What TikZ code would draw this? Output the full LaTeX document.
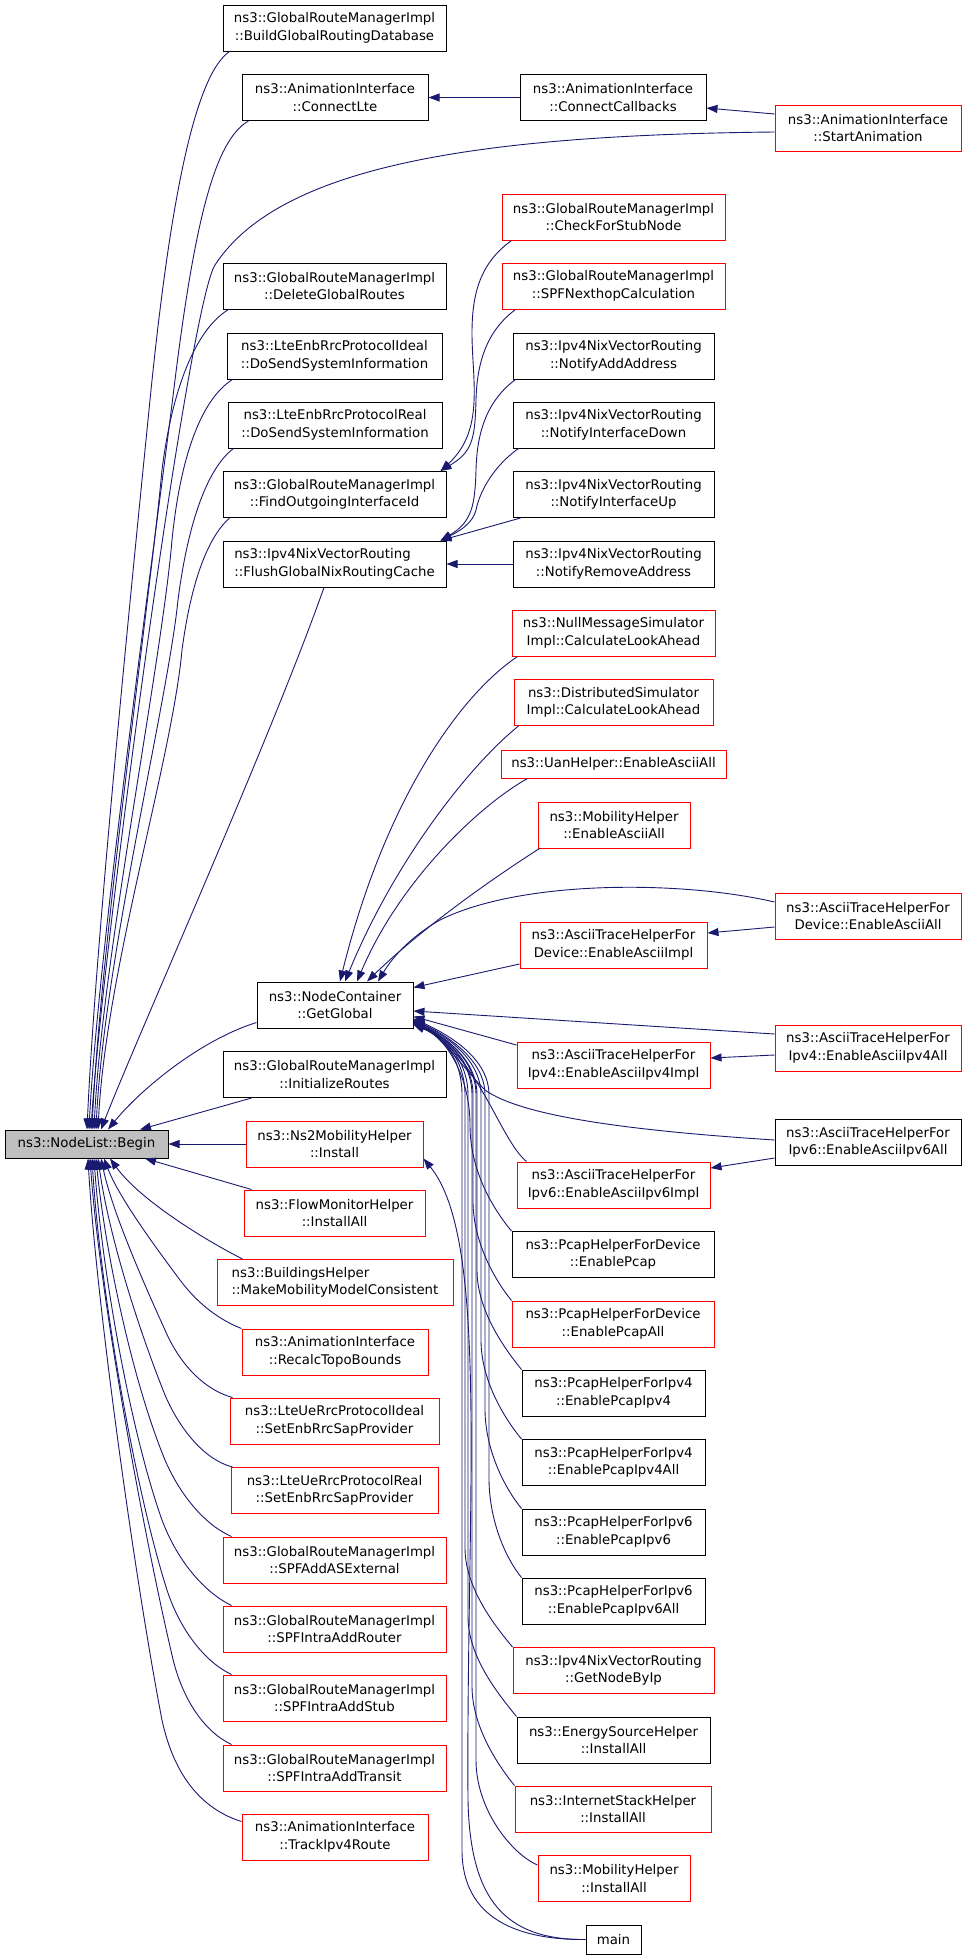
\documentclass[tikz,border=0pt]{standalone}
\usepackage{fontspec}
\setmainfont{DejaVu Sans}
\usetikzlibrary{arrows.meta}
\definecolor{navy}{HTML}{191970}
\definecolor{beginfill}{HTML}{BFBFBF}
\tikzset{
  box/.style={draw=black, fill=white, line width=1pt, inner sep=0pt, align=center,
    font=\fontsize{13.3}{17.5}\selectfont, minimum height=46pt},
  redbox/.style={box, draw=red},
  calls/.style={draw=navy, line width=0.9pt, -{Triangle[length=11pt,width=8pt]}}
}
\begin{document}
\begin{tikzpicture}[x=1pt,y=-1pt]
\useasboundingbox (0,0) rectangle (963,1960);
% column A
\node[box, fill=beginfill, minimum width=163pt, minimum height=28pt] (nlbegin) at (86.5,1144) {ns3::NodeList::Begin};
% column B
\node[box, minimum width=223pt] (build) at (334.5,28) {ns3::GlobalRouteManagerImpl\\::BuildGlobalRoutingDatabase};
\node[box, minimum width=186pt] (connectlte) at (335,97.5) {ns3::AnimationInterface\\::ConnectLte};
\node[box, minimum width=223pt] (delete) at (334.5,286) {ns3::GlobalRouteManagerImpl\\::DeleteGlobalRoutes};
\node[box, minimum width=215pt] (enbideal) at (334.5,356) {ns3::LteEnbRrcProtocolIdeal\\::DoSendSystemInformation};
\node[box, minimum width=214pt] (enbreal) at (335,425) {ns3::LteEnbRrcProtocolReal\\::DoSendSystemInformation};
\node[box, minimum width=223pt] (findout) at (334.5,494.5) {ns3::GlobalRouteManagerImpl\\::FindOutgoingInterfaceId};
\node[box, minimum width=223pt, align=left] (flush) at (334.5,564) {ns3::Ipv4NixVectorRouting\\::FlushGlobalNixRoutingCache};
\node[box, minimum width=156pt] (gg) at (335,1005) {ns3::NodeContainer\\::GetGlobal};
\node[box, minimum width=223pt] (initroutes) at (334.5,1074.5) {ns3::GlobalRouteManagerImpl\\::InitializeRoutes};
\node[redbox, minimum width=177pt] (ns2) at (334.5,1144) {ns3::Ns2MobilityHelper\\::Install};
\node[redbox, minimum width=181pt] (flowmon) at (334.5,1213) {ns3::FlowMonitorHelper\\::InstallAll};
\node[redbox, minimum width=236pt, align=left] (buildings) at (335,1282.5) {ns3::BuildingsHelper\\::MakeMobilityModelConsistent};
\node[redbox, minimum width=186pt] (recalc) at (335,1352) {ns3::AnimationInterface\\::RecalcTopoBounds};
\node[redbox, minimum width=209pt] (ueideal) at (334.5,1421) {ns3::LteUeRrcProtocolIdeal\\::SetEnbRrcSapProvider};
\node[redbox, minimum width=207pt] (uereal) at (334.5,1490.5) {ns3::LteUeRrcProtocolReal\\::SetEnbRrcSapProvider};
\node[redbox, minimum width=223pt] (spfext) at (334.5,1560) {ns3::GlobalRouteManagerImpl\\::SPFAddASExternal};
\node[redbox, minimum width=223pt] (spfrouter) at (334.5,1629) {ns3::GlobalRouteManagerImpl\\::SPFIntraAddRouter};
\node[redbox, minimum width=223pt] (spfstub) at (334.5,1698) {ns3::GlobalRouteManagerImpl\\::SPFIntraAddStub};
\node[redbox, minimum width=223pt] (spftransit) at (334.5,1768) {ns3::GlobalRouteManagerImpl\\::SPFIntraAddTransit};
\node[redbox, minimum width=186pt] (track) at (335,1837) {ns3::AnimationInterface\\::TrackIpv4Route};
% column C
\node[box, minimum width=186pt] (connectcb) at (613,97.5) {ns3::AnimationInterface\\::ConnectCallbacks};
\node[redbox, minimum width=223pt] (checkstub) at (613.5,217) {ns3::GlobalRouteManagerImpl\\::CheckForStubNode};
\node[redbox, minimum width=223pt] (spfnext) at (613.5,286) {ns3::GlobalRouteManagerImpl\\::SPFNexthopCalculation};
\node[box, minimum width=201pt] (notifyadd) at (613.5,356) {ns3::Ipv4NixVectorRouting\\::NotifyAddAddress};
\node[box, minimum width=201pt] (notifydown) at (613.5,425) {ns3::Ipv4NixVectorRouting\\::NotifyInterfaceDown};
\node[box, minimum width=201pt] (notifyup) at (613.5,494.5) {ns3::Ipv4NixVectorRouting\\::NotifyInterfaceUp};
\node[box, minimum width=201pt] (notifyrem) at (613.5,564) {ns3::Ipv4NixVectorRouting\\::NotifyRemoveAddress};
\node[redbox, minimum width=203pt] (nullmsg) at (613.5,633) {ns3::NullMessageSimulator\\Impl::CalculateLookAhead};
\node[redbox, minimum width=199pt] (distsim) at (613.5,702.5) {ns3::DistributedSimulator\\Impl::CalculateLookAhead};
\node[redbox, minimum width=225pt, minimum height=28pt] (uan) at (613.5,764) {ns3::UanHelper::EnableAsciiAll};
\node[redbox, minimum width=152pt] (mobascii) at (614,825) {ns3::MobilityHelper\\::EnableAsciiAll};
\node[redbox, minimum width=187pt] (devimpl) at (613.5,945) {ns3::AsciiTraceHelperFor\\Device::EnableAsciiImpl};
\node[redbox, minimum width=193pt] (ipv4impl) at (613.5,1065) {ns3::AsciiTraceHelperFor\\Ipv4::EnableAsciiIpv4Impl};
\node[redbox, minimum width=193pt] (ipv6impl) at (613.5,1185) {ns3::AsciiTraceHelperFor\\Ipv6::EnableAsciiIpv6Impl};
\node[box, minimum width=202pt] (pcap) at (613,1254.5) {ns3::PcapHelperForDevice\\::EnablePcap};
\node[redbox, minimum width=202pt] (pcapall) at (613,1324) {ns3::PcapHelperForDevice\\::EnablePcapAll};
\node[box, minimum width=183pt] (pcapfour) at (613.5,1393) {ns3::PcapHelperForIpv4\\::EnablePcapIpv4};
\node[box, minimum width=183pt] (pcapfourall) at (613.5,1462.5) {ns3::PcapHelperForIpv4\\::EnablePcapIpv4All};
\node[box, minimum width=183pt] (pcapsix) at (613.5,1532) {ns3::PcapHelperForIpv6\\::EnablePcapIpv6};
\node[box, minimum width=183pt] (pcapsixall) at (613.5,1601) {ns3::PcapHelperForIpv6\\::EnablePcapIpv6All};
\node[redbox, minimum width=201pt] (getnode) at (613.5,1670.5) {ns3::Ipv4NixVectorRouting\\::GetNodeByIp};
\node[box, minimum width=193pt] (energy) at (613.5,1740) {ns3::EnergySourceHelper\\::InstallAll};
\node[redbox, minimum width=196pt] (internet) at (613,1809) {ns3::InternetStackHelper\\::InstallAll};
\node[redbox, minimum width=152pt] (mobinst) at (614,1878.5) {ns3::MobilityHelper\\::InstallAll};
\node[box, minimum width=55pt, minimum height=29pt] (main) at (613.5,1939.5) {main};
% column D
\node[redbox, minimum width=186pt] (startanim) at (868,128) {ns3::AnimationInterface\\::StartAnimation};
\node[redbox, minimum width=186pt] (devall) at (868,916) {ns3::AsciiTraceHelperFor\\Device::EnableAsciiAll};
\node[redbox, minimum width=186pt] (ipvfourall) at (868,1048) {ns3::AsciiTraceHelperFor\\Ipv4::EnableAsciiIpv4All};
\node[box, minimum width=186pt] (ipvsixall) at (868,1142.5) {ns3::AsciiTraceHelperFor\\Ipv6::EnableAsciiIpv6All};

% ---- edges into NodeList::Begin (from above)
\draw[calls] ([xshift=7pt]build.south west) .. controls (195,75) and (170,200) .. (150,400) .. controls (130,600) and (95,950) .. ([xshift=0.5pt]nlbegin.north);
\draw[calls] ([xshift=7pt]connectlte.south west) .. controls (215,140) and (195,220) .. (175,380) .. controls (158,520) and (98,950) .. ([xshift=2.5pt]nlbegin.north);
\draw[calls] ([yshift=-4pt]startanim.west) .. controls (480,135) and (280,165) .. (215,265) .. controls (189,305) and (102,950) .. ([xshift=4.5pt]nlbegin.north);
\draw[calls] ([xshift=6pt]delete.south west) .. controls (195,330) and (172,390) .. (162,470) .. controls (150,600) and (100,950) .. ([xshift=5.5pt]nlbegin.north);
\draw[calls] ([xshift=6pt]enbideal.south west) .. controls (200,400) and (180,460) .. (172,540) .. controls (162,660) and (102,960) .. ([xshift=7.5pt]nlbegin.north);
\draw[calls] ([xshift=6pt]enbreal.south west) .. controls (205,470) and (187,530) .. (178,600) .. controls (168,700) and (104,960) .. ([xshift=9.5pt]nlbegin.north);
\draw[calls] ([xshift=7pt]findout.south west) .. controls (205,540) and (190,590) .. (182,650) .. controls (172,760) and (106,970) .. ([xshift=11.5pt]nlbegin.north);
\draw[calls] ([xshift=-10.5pt]flush.south) .. controls (270,740) and (140,1030) .. ([xshift=14.5pt]nlbegin.north);
\draw[calls] ([yshift=6pt]gg.south west) .. controls (200,1040) and (140,1090) .. ([xshift=21.5pt]nlbegin.north);
\draw[calls] ([xshift=29pt]initroutes.south west) -- ([xshift=53.5pt]nlbegin.north);
\draw[calls] (ns2.west) -- (nlbegin.east);
% ---- edges into NodeList::Begin (from below)
\draw[calls] ([xshift=8pt]flowmon.north west) -- ([xshift=58.5pt]nlbegin.south);
\draw[calls] ([xshift=26pt]buildings.north west) .. controls (205,1240) and (140,1200) .. ([xshift=23.5pt]nlbegin.south);
\draw[calls] (recalc.north west) .. controls (215,1318) and (195,1300) .. (180,1280) .. controls (150,1240) and (118,1195) .. ([xshift=17.5pt]nlbegin.south);
\draw[calls] ([xshift=3pt]ueideal.north west) .. controls (205,1390) and (180,1365) .. (165,1330) .. controls (140,1275) and (112,1210) .. ([xshift=14.5pt]nlbegin.south);
\draw[calls] ([xshift=2pt]uereal.north west) .. controls (205,1460) and (180,1430) .. (165,1395) .. controls (135,1320) and (108,1230) .. ([xshift=11.5pt]nlbegin.south);
\draw[calls] ([xshift=9pt]spfext.north west) .. controls (205,1525) and (180,1495) .. (165,1460) .. controls (132,1380) and (105,1250) .. ([xshift=9.5pt]nlbegin.south);
\draw[calls] ([xshift=9pt]spfrouter.north west) .. controls (200,1590) and (175,1555) .. (162,1520) .. controls (130,1430) and (102,1270) .. ([xshift=7.5pt]nlbegin.south);
\draw[calls] ([xshift=9pt]spfstub.north west) .. controls (205,1662) and (180,1630) .. (167,1590) .. controls (135,1490) and (100,1290) .. ([xshift=5.5pt]nlbegin.south);
\draw[calls] ([xshift=9pt]spftransit.north west) .. controls (205,1732) and (182,1700) .. (172,1655) .. controls (145,1540) and (100,1300) .. ([xshift=3.5pt]nlbegin.south);
\draw[calls] ([yshift=-8pt]track.north west) .. controls (205,1810) and (175,1780) .. (162,1720) .. controls (135,1580) and (96,1300) .. ([xshift=1.5pt]nlbegin.south);

% ---- upper right
\draw[calls] (connectcb.west) -- (connectlte.east);
\draw[calls] ([yshift=14pt]startanim.west) -- ([yshift=-10.5pt]connectcb.east);
\draw[calls] ([xshift=10pt]checkstub.south west) .. controls (482,262) and (472,290) .. (472,333) .. controls (472,380) and (485,430) .. ([xshift=-6pt]findout.north east);
\draw[calls] ([xshift=14pt]spfnext.south west) .. controls (488,330) and (477,360) .. (476,400) .. controls (475,440) and (472,452) .. ([xshift=-6pt]findout.north east);
\draw[calls] ([xshift=3pt]notifyadd.south west) .. controls (488,400) and (477,430) .. (476,470) .. controls (475,505) and (472,522) .. ([xshift=-6pt]flush.north east);
\draw[calls] ([xshift=6pt]notifydown.south west) .. controls (495,465) and (480,490) .. (476,510) .. controls (473,522) and (462,530) .. ([xshift=-6pt]flush.north east);
\draw[calls] ([xshift=8pt]notifyup.south west) -- ([xshift=-6pt]flush.north east);
\draw[calls] (notifyrem.west) -- (flush.east);

% ---- into GetGlobal from above
\draw[calls] ([xshift=6pt]nullmsg.south west) .. controls (460,695) and (385,800) .. ([xshift=5pt]gg.north);
\draw[calls] ([xshift=5pt]distsim.south west) .. controls (470,765) and (395,860) .. ([xshift=10pt]gg.north);
\draw[calls] ([xshift=27pt]uan.south west) .. controls (480,805) and (400,880) .. ([xshift=22pt]gg.north);
\draw[calls] ([xshift=2pt]mobascii.south west) .. controls (490,880) and (420,930) .. ([xshift=32pt]gg.north);
\draw[calls] ([yshift=14pt]devall.west) .. controls (680,880) and (520,880) .. (440,920) .. controls (410,937) and (392,958) .. ([xshift=43pt]gg.north);
% ---- into GetGlobal from the right
\draw[calls] ([yshift=-19pt]devimpl.west) -- ([yshift=-6pt]gg.north east);
\draw[calls] ([yshift=14pt]ipvfourall.west) -- ([yshift=-6pt]gg.east);
\draw[calls] ([yshift=20pt]ipv4impl.west) -- ([yshift=12pt]gg.south east);
\draw[calls] ([yshift=2.5pt]ipvsixall.west) .. controls (620,1130) and (520,1115) .. (485,1090) .. controls (465,1070) and (445,1040) .. ([yshift=8pt]gg.south east);
% ---- bundle into GetGlobal from below
\draw[calls] ([xshift=10pt]ipv6impl.north west) .. controls (500,1140) and (478,1055) .. ([yshift=6pt]gg.south east);
\draw[calls] (pcap.north west) .. controls (494,1210) and (470,1172) .. (470,1125) .. controls (470,1075) and (445,1037) .. ([yshift=5pt]gg.south east);
\draw[calls] (pcapall.north west) .. controls (494,1279) and (473,1241) .. (473,1201) .. controls (473,1160) and (473,1130) .. (473,1095) .. controls (473,1060) and (445,1037) .. ([yshift=6pt]gg.south east);
\draw[calls] (pcapfour.north west) .. controls (504,1348) and (477,1310) .. (477,1270) .. controls (477,1200) and (477,1140) .. (477,1095) .. controls (477,1060) and (446,1037) .. ([yshift=7pt]gg.south east);
\draw[calls] (pcapfourall.north west) .. controls (504,1418) and (481,1380) .. (481,1340) .. controls (481,1240) and (481,1150) .. (481,1095) .. controls (481,1060) and (447,1036) .. ([yshift=8pt]gg.south east);
\draw[calls] (pcapsix.north west) .. controls (504,1487) and (485,1449) .. (485,1409) .. controls (485,1280) and (485,1160) .. (485,1095) .. controls (485,1060) and (448,1036) .. ([yshift=9pt]gg.south east);
\draw[calls] (pcapsixall.north west) .. controls (504,1556) and (489,1518) .. (489,1478) .. controls (489,1320) and (489,1170) .. (489,1095) .. controls (489,1058) and (449,1035) .. ([yshift=10pt]gg.south east);
\draw[calls] (getnode.north west) .. controls (495,1626) and (465,1588) .. (465,1548) .. controls (465,1350) and (465,1170) .. (465,1095) .. controls (465,1060) and (445,1038) .. ([yshift=4pt]gg.south east);
\draw[calls] (energy.north west) .. controls (499,1695) and (468,1657) .. (468,1617) .. controls (468,1400) and (468,1180) .. (468,1095) .. controls (468,1060) and (445,1038) .. ([yshift=5pt]gg.south east);
\draw[calls] (internet.north west) .. controls (497,1764) and (472,1726) .. (472,1686) .. controls (472,1450) and (472,1190) .. (472,1095) .. controls (472,1060) and (445,1037) .. ([yshift=6pt]gg.south east);
\draw[calls] ([yshift=-10pt]mobinst.north west) .. controls (512,1854) and (476,1810) .. (476,1760) .. controls (476,1500) and (476,1200) .. (476,1095) .. controls (476,1060) and (446,1037) .. ([yshift=7pt]gg.south east);
\draw[calls] (main.west) .. controls (520,1940) and (462,1920) .. (462,1850) .. controls (462,1550) and (462,1200) .. (462,1095) .. controls (462,1060) and (445,1038) .. ([yshift=4pt]gg.south east);
\draw[calls] (main.west) .. controls (505,1940) and (470,1900) .. (468,1800) .. controls (466,1500) and (490,1240) .. ([yshift=9pt]ns2.south east);

% ---- Ascii pairs
\draw[calls] ([yshift=-11pt]devall.west) -- ([yshift=12pt]devimpl.east);
\draw[calls] ([yshift=-7pt]ipvfourall.west) -- ([yshift=7pt]ipv4impl.east);
\draw[calls] ([yshift=-15.5pt]ipvsixall.west) -- ([yshift=17pt]ipv6impl.east);
\end{tikzpicture}
\end{document}
